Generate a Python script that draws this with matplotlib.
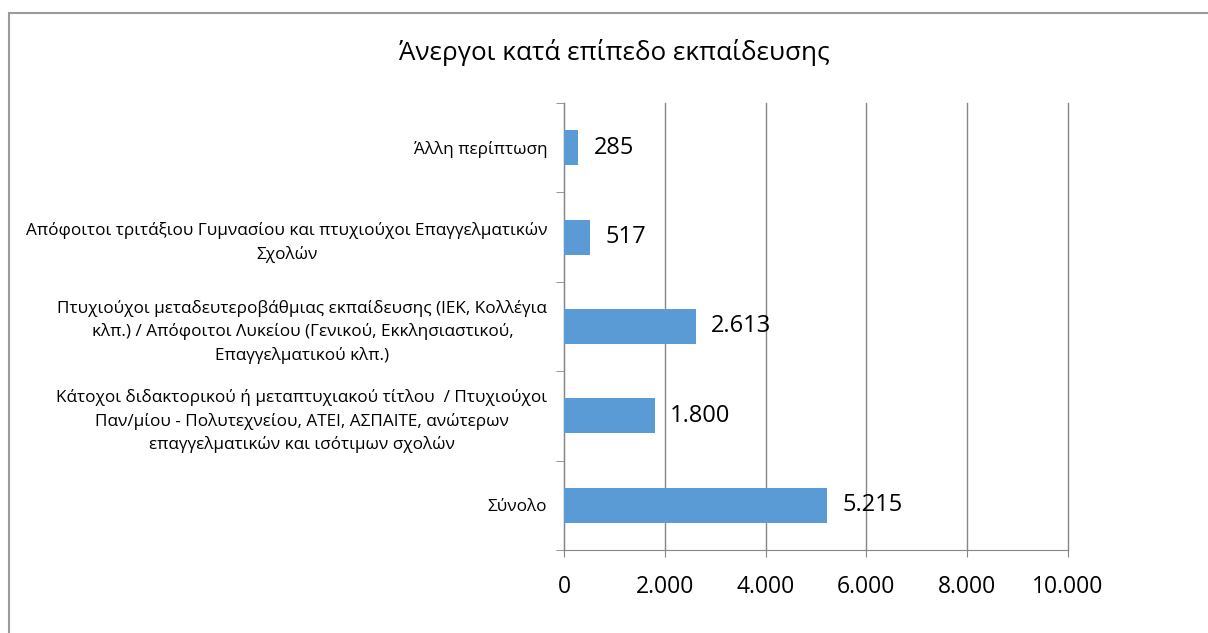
import matplotlib.pyplot as plt
from matplotlib.patches import Rectangle

plt.rcParams['font.family'] = ['Open Sans', 'DejaVu Sans']

title = 'Άνεργοι κατά επίπεδο εκπαίδευσης'
categories = [
    'Σύνολο',
    'Κάτοχοι διδακτορικού ή μεταπτυχιακού τίτλου  / Πτυχιούχοι\n'
    'Παν/μίου - Πολυτεχνείου, ΑΤΕΙ, ΑΣΠΑΙΤΕ, ανώτερων\n'
    'επαγγελματικών και ισότιμων σχολών',
    'Πτυχιούχοι μεταδευτεροβάθμιας εκπαίδευσης (ΙΕΚ, Κολλέγια\n'
    'κλπ.) / Απόφοιτοι Λυκείου (Γενικού, Εκκλησιαστικού,\n'
    'Επαγγελματικού κλπ.)',
    'Απόφοιτοι τριτάξιου Γυμνασίου και πτυχιούχοι Επαγγελματικών\n'
    'Σχολών',
    'Άλλη περίπτωση',
]
values = [5215, 1800, 2613, 517, 285]
x_ticks = [0, 2000, 4000, 6000, 8000, 10000]


def fmt(v):
    return f'{v:,}'.replace(',', '.')


fig = plt.figure(figsize=(12.08, 6.33), dpi=100)
ax = fig.add_axes([564 / 1208, 1 - 550 / 633, (1068 - 564) / 1208, (550 - 103) / 633])

# chart frame
fig.patches.append(Rectangle((9 / 1208, -0.1), 1.2, 1 - 13 / 633 + 0.1,
                             transform=fig.transFigure, fill=False,
                             edgecolor='#9a9a9a', linewidth=1.5))

pos = list(range(len(categories)))
ax.barh(pos, values, height=0.39, color='#5b9bd5', zorder=3)

for p, v in zip(pos, values):
    ax.annotate(fmt(v), (v, p), xytext=(11, 0), textcoords='offset points',
                ha='left', va='center', fontsize=17, color='black', zorder=4)

ax.set_xlim(0, 10000)
ax.set_ylim(-0.5, len(categories) - 0.5)
ax.set_xticks(x_ticks)
ax.set_xticklabels([fmt(t) for t in x_ticks], fontsize=16.5)
ax.tick_params(axis='x', length=5, color='#868686', pad=13)

ax.set_yticks(pos)
ax.set_yticklabels(categories, fontsize=12.3, multialignment='center',
                   linespacing=1.5)
ax.tick_params(axis='y', which='major', length=0, pad=12)
ax.set_yticks([p - 0.5 for p in pos] + [len(categories) - 0.5], minor=True)
ax.tick_params(axis='y', which='minor', length=6, color='#868686')

ax.grid(axis='x', color='#868686', linewidth=1, zorder=0)
for line in ax.get_xgridlines():
    line.set_clip_on(False)
for s in ['top', 'right']:
    ax.spines[s].set_visible(False)
for s in ['left', 'bottom']:
    ax.spines[s].set_color('#868686')

fig.text(614 / 1208, 1 - 53 / 633, title, ha='center', va='center', fontsize=18.7)

fig.savefig('out.png', dpi=100)
